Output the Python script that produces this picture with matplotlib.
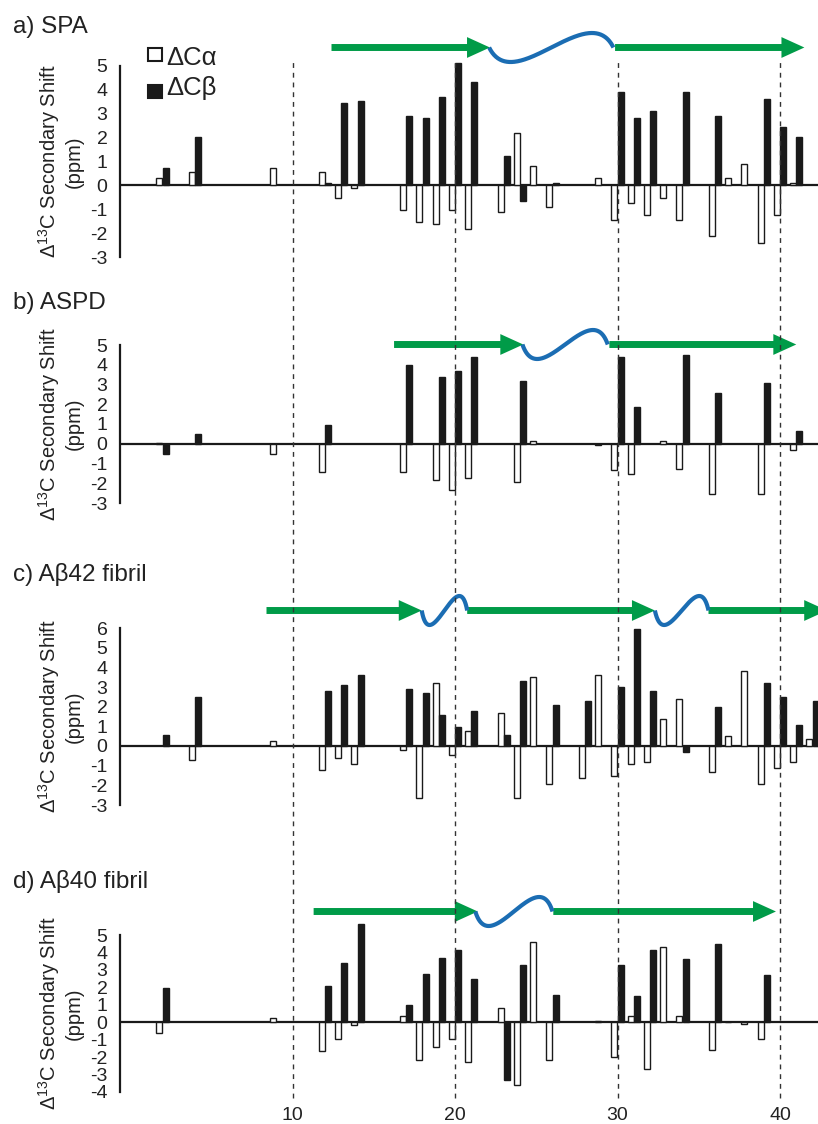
import matplotlib
matplotlib.use("Agg")
import matplotlib.pyplot as plt
import numpy as np
from matplotlib.transforms import blended_transform_factory
from matplotlib.patches import FancyArrowPatch, Rectangle
from matplotlib.lines import Line2D

plt.rcParams['font.family'] = ['Liberation Sans', 'DejaVu Sans']
plt.rcParams['mathtext.fontset'] = 'custom'
plt.rcParams['mathtext.rm'] = 'Liberation Sans'
plt.rcParams['mathtext.it'] = 'Liberation Sans:italic'
plt.rcParams['axes.unicode_minus'] = False

# ---------------- data ----------------
# a) SPA
spa_ca_res = [2, 4, 9, 12, 13, 14, 17, 18, 19, 20, 21, 23, 24, 25, 26, 29, 30, 31, 32, 33, 34, 36, 37, 38, 39, 40, 41]
spa_ca = [0.30, 0.54, 0.72, 0.54, -0.54, -0.12, -1.02, -1.53, -1.62, -1.02, -1.83, -1.12, 2.21, 0.83, -0.91,
          0.30, -1.46, -0.72, -1.23, -0.52, -1.44, -2.13, 0.30, 0.91, -2.43, -1.22, 0.12]
spa_cb_res = [2, 4, 12, 13, 14, 17, 18, 19, 20, 21, 23, 24, 26, 30, 31, 32, 34, 36, 39, 40, 41]
spa_cb = [0.72, 2.04, 0.12, 3.44, 3.54, 2.92, 2.82, 3.72, 5.14, 4.33, 1.23, -0.64, 0.12,
          3.91, 2.82, 3.13, 3.91, 2.92, 3.62, 2.43, 2.03]

# b) ASPD
aspd_ca_res = [2, 9, 12, 17, 19, 20, 21, 24, 25, 29, 30, 31, 33, 34, 36, 39, 41]
aspd_ca = [0.05, -0.54, -1.42, -1.42, -1.83, -2.33, -1.72, -1.92, 0.12, -0.08, -1.34, -1.52, 0.12,
           -1.30, -2.53, -2.53, -0.34]
aspd_cb_res = [2, 4, 12, 17, 19, 20, 21, 24, 30, 31, 34, 36, 39, 41]
aspd_cb = [-0.54, 0.47, 0.94, 3.98, 3.37, 3.68, 4.37, 3.17, 4.37, 1.85, 4.47, 2.56, 3.07, 0.66]

# c) Abeta42 fibril
ab42_ca_res = [4, 9, 12, 13, 14, 17, 18, 19, 20, 21, 23, 24, 25, 26, 28, 29, 30, 31, 32, 33, 34, 36, 37, 38,
               39, 40, 41, 42]
ab42_ca = [-0.70, 0.25, -1.24, -0.61, -0.91, -0.19, -2.63, 3.18, -0.48, 0.76, 1.69, -2.63, 3.50, -1.95,
           -1.64, 3.60, -1.54, -0.93, -0.82, 1.37, 2.37, -1.30, 0.53, 3.79, -1.92, -1.14, -0.82, 0.37]
ab42_cb_res = [2, 4, 12, 13, 14, 17, 18, 19, 20, 21, 23, 24, 26, 28, 30, 31, 32, 34, 36, 39, 40, 41, 42]
ab42_cb = [0.57, 2.48, 2.79, 3.11, 3.62, 2.89, 2.70, 1.59, 0.96, 1.76, 0.57, 3.28, 2.10, 2.30, 3.01, 5.95,
           2.79, -0.30, 2.00, 3.18, 2.48, 1.08, 2.30]

# d) Abeta40 fibril
ab40_ca_res = [2, 9, 12, 13, 14, 17, 18, 19, 20, 21, 23, 24, 25, 26, 29, 30, 31, 32, 33, 34, 36, 37, 38, 39]
ab40_ca = [-0.63, 0.23, -1.67, -0.95, -0.15, 0.34, -2.16, -1.44, -0.94, -2.26, 0.84, -3.58, 4.60, -2.16,
           0.08, -1.97, 0.34, -2.70, 4.29, 0.34, -1.57, 0.04, -0.10, -0.94]
ab40_cb_res = [2, 12, 13, 14, 17, 18, 19, 20, 21, 23, 24, 26, 30, 31, 32, 34, 36, 39]
ab40_cb = [1.98, 2.07, 3.39, 5.61, 0.96, 2.78, 3.70, 4.12, 2.49, -3.29, 3.30, 1.57, 3.30, 1.48, 4.12,
           3.60, 4.51, 2.70]

# secondary structure (residue spans): beta strands (arrows) and loops (waves)
spa_strands = [(12.4, 22.15), (29.85, 41.5)]
spa_loops = [(22.1, 29.75)]
aspd_strands = [(16.25, 24.2), (29.5, 41.0)]
aspd_loops = [(24.15, 29.4)]
ab42_strands = [(8.4, 17.95), (20.75, 32.3), (35.6, 42.9)]
ab42_loops = [(17.95, 20.75), (32.3, 35.6)]
ab40_strands = [(11.3, 21.4), (26.05, 39.75)]
ab40_loops = [(21.25, 26.0)]

titles = ["a) SPA", "b) ASPD", "c) Aβ42 fibril", "d) Aβ40 fibril"]
xtick_vals = [10, 20, 30, 40]

# ---------------- layout ----------------
W, H = 818, 1124
fig = plt.figure(figsize=(W / 100, H / 100), dpi=100)


def fx(px):
    return px / W


def fy(py):
    return 1 - py / H


def res_of_px(px):
    return 10 + (px - 292.5) / 16.25


GREEN = '#009B48'
BLUE = '#1B6DB3'
DARK = '#1a1a1a'

panels = [
    dict(ca_res=spa_ca_res, ca=spa_ca, cb_res=spa_cb_res, cb=spa_cb, ylim=(-3, 5), top=66, bottom=257,
         title_y=33, arrow_y=47.5, strands=spa_strands, loops=spa_loops),
    dict(ca_res=aspd_ca_res, ca=aspd_ca, cb_res=aspd_cb_res, cb=aspd_cb, ylim=(-3, 5), top=345, bottom=503,
         title_y=309, arrow_y=344.5, strands=aspd_strands, loops=aspd_loops),
    dict(ca_res=ab42_ca_res, ca=ab42_ca, cb_res=ab42_cb_res, cb=ab42_cb, ylim=(-3, 6), top=628, bottom=805,
         title_y=581, arrow_y=610.5, strands=ab42_strands, loops=ab42_loops),
    dict(ca_res=ab40_ca_res, ca=ab40_ca, cb_res=ab40_cb_res, cb=ab40_cb, ylim=(-4, 5), top=935, bottom=1092,
         title_y=888, arrow_y=911.5, strands=ab40_strands, loops=ab40_loops),
]

x_left, x_right = 120, 818
xlim = (res_of_px(x_left), res_of_px(x_right))

# bezier wave shape (normalised)
tt = np.linspace(0, 1, 200)
P = np.array([[0, 0], [0.2, -3.46], [0.8, 3.46], [1, 0]])
bez = ((1 - tt) ** 3)[:, None] * P[0] + (3 * (1 - tt) ** 2 * tt)[:, None] * P[1] + \
      (3 * (1 - tt) * tt ** 2)[:, None] * P[2] + (tt ** 3)[:, None] * P[3]
bx = bez[:, 0]
by = bez[:, 1] / np.abs(bez[:, 1]).max()
AMP = 14.5  # px

axes = []
for i, p in enumerate(panels):
    ax = fig.add_axes([fx(x_left), fy(p['bottom']), fx(x_right) - fx(x_left),
                       (p['bottom'] - p['top']) / H])
    axes.append(ax)
    ax.set_xlim(*xlim)
    ax.set_ylim(*p['ylim'])
    for s in ['top', 'right', 'bottom']:
        ax.spines[s].set_visible(False)
    ax.spines['left'].set_linewidth(1.6)
    ax.spines['left'].set_color(DARK)
    ax.axhline(0, color=DARK, lw=1.6, zorder=1)
    ax.bar(np.array(p['ca_res']) - 0.19, p['ca'], width=0.36, color='white', edgecolor=DARK,
           linewidth=1.0, zorder=2, clip_on=False)
    ax.bar(np.array(p['cb_res']) + 0.19, p['cb'], width=0.36, color=DARK, edgecolor=DARK,
           linewidth=1.0, zorder=2, clip_on=False)
    lo, hi = p['ylim']
    ax.set_yticks(range(lo, hi + 1))
    ax.set_yticklabels([str(v) for v in range(lo, hi + 1)])
    ax.tick_params(axis='y', length=0, pad=9, labelsize=14, colors='#222222')
    if i == len(panels) - 1:
        ax.set_xticks(xtick_vals)
        ax.set_xticklabels([str(v) for v in xtick_vals])
        ax.tick_params(axis='x', length=0, pad=11, labelsize=14, colors='#222222')
    else:
        ax.set_xticks([])
    ax.patch.set_visible(False)

    # title and y label
    fig.text(fx(13), fy(p['title_y']), titles[i], fontsize=17.5, va='baseline', ha='left', color='#222222')
    fig.text(fx(60), fy((p['top'] + p['bottom']) / 2), 'Δ$^{13}$C Secondary Shift\n(ppm)', rotation=90,
             ha='center', va='center', multialignment='center', fontsize=14.5, linespacing=1.2,
             color='#222222')

    # secondary structure
    trans = blended_transform_factory(ax.transData, fig.transFigure)
    yc = fy(p['arrow_y'])
    for (s, e) in p['strands']:
        arr = FancyArrowPatch((s, yc), (e, yc), transform=trans,
                              arrowstyle='simple,head_length=16.5,head_width=15,tail_width=5',
                              mutation_scale=1, color=GREEN, lw=0, shrinkA=0, shrinkB=0, zorder=5)
        fig.add_artist(arr)
    for (s, e) in p['loops']:
        xs = s + (e - s) * bx
        ys = yc + AMP / H * by
        fig.add_artist(Line2D(xs, ys, transform=trans, color=BLUE, lw=3, solid_capstyle='butt', zorder=5))

# dashed guide lines across all panels
ttrans = blended_transform_factory(axes[-1].transData, fig.transFigure)
for xv in xtick_vals:
    fig.add_artist(Line2D([xv, xv], [fy(1098), fy(60)], transform=ttrans, ls=(0, (3.5, 3.5)), lw=1.0,
                          color='#333333', zorder=6))

# legend (panel a)
fig.add_artist(Rectangle((fx(148), fy(61)), fx(14), 13 / H, transform=fig.transFigure,
                         facecolor='white', edgecolor=DARK, lw=1.5))
fig.add_artist(Rectangle((fx(148), fy(98)), fx(14), 13 / H, transform=fig.transFigure,
                         facecolor=DARK, edgecolor=DARK, lw=1.5))
fig.text(fx(166), fy(65), 'ΔCα', fontsize=18.5, va='baseline', ha='left', color='#222222')
fig.text(fx(166), fy(95), 'ΔCβ', fontsize=18.5, va='baseline', ha='left', color='#222222')

fig.savefig('out.png', dpi=100)
